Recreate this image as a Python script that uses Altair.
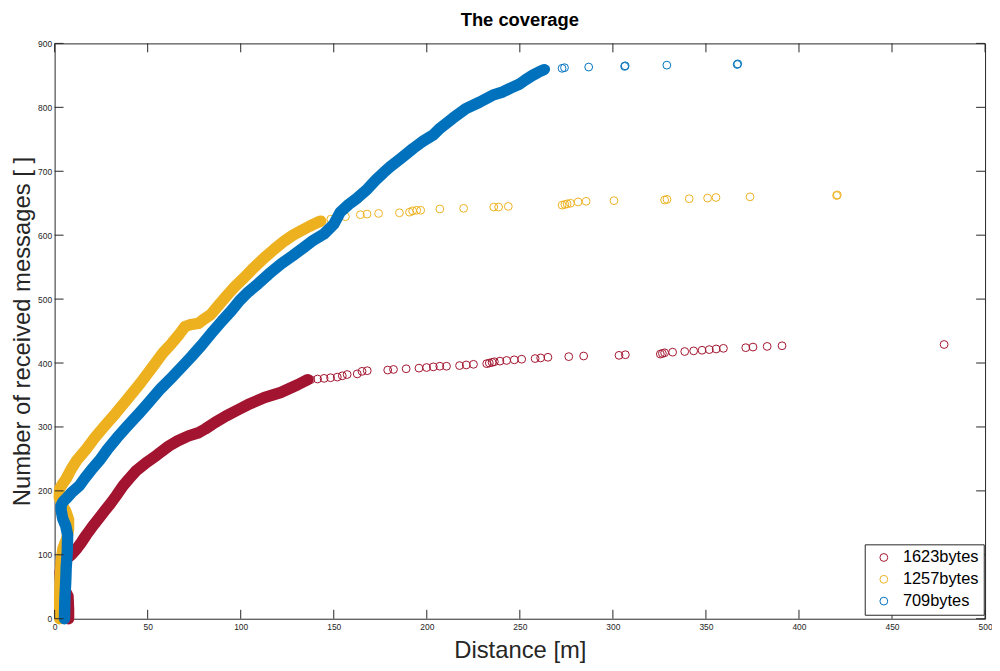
import altair as alt
import pandas as pd

SERIES = ["1623bytes", "1257bytes", "709bytes"]
COLORS = ["#A2142F", "#EDB120", "#0072BD"]

X_TICKS = [0, 50, 100, 150, 200, 250, 300, 350, 400, 450, 500]
Y_TICKS = [0, 100, 200, 300, 400, 500, 600, 700, 800, 900]

# ---- 1623bytes (red) ----
red_dense_x = [7.5, 7.5, 7.2, 5.0, 3.2, 3.0, 3.5, 6.0, 9.0, 12.0, 14.5, 17.0, 20.0, 23.5, 26.7, 30.0, 33.0,
               36.8, 40.0, 44.0, 49.7, 55.0, 61.3, 66.0, 72.0, 77.3, 81.0, 86.2, 92.0, 98.6, 104.0, 112.8,
               121.5, 130.6, 136.0]
red_dense_y = [0, 15, 35, 48, 58, 72, 85, 93, 100, 110, 120, 131, 143, 156, 168, 180, 192, 208, 219, 232,
               245, 256, 270, 278, 286, 291, 297, 307, 317, 327, 335, 346, 354, 366, 374]
red_pts_x = [137.6, 141.3, 144.8, 148.3, 151.9, 154.6, 157.2, 162.6, 165.2, 168.0, 179.0, 182.1, 188.9,
             195.8, 199.9, 203.5, 207.0, 210.6, 217.6, 221.2, 225.1, 232.2, 233.6, 235.1, 236.3, 239.3,
             242.9, 247.0, 251.0, 258.2, 261.2, 265.1, 276.3, 284.3, 303.3, 306.7, 325.5, 326.6, 327.8,
             332.1, 338.6, 343.4, 347.9, 351.8, 355.5, 359.4, 371.4, 375.3, 382.9, 390.9, 478.0]
red_pts_y = [374, 375, 376, 377, 378, 380, 382, 383, 387, 388, 389, 390, 391, 392, 393, 394, 395, 395,
             396, 397, 398, 399, 400, 401, 402, 403, 404, 405, 406, 407, 408, 409, 410, 411, 412, 413,
             414, 415, 416, 417, 418, 419, 420, 421, 422, 423, 424, 425, 426, 427, 429]

# ---- 1257bytes (yellow) ----
yel_dense_x = [2.7, 2.7, 3.0, 3.5, 4.5, 6.5, 7.5, 7.5, 6.0, 4.0, 2.5, 2.7, 4.5, 6.2, 8.9, 12.0, 16.9,
               21.5, 26.7, 33.0, 39.0, 46.2, 54.2, 58.0, 63.0, 67.0, 70.0, 73.0, 77.3, 80.0, 84.0, 88.0,
               93.3, 97.0, 102.0, 107.0, 112.8, 118.0, 123.5, 128.0, 132.4, 137.0, 141.3, 143.0]
yel_dense_y = [0, 30, 60, 90, 110, 125, 140, 155, 168, 178, 190, 203, 212, 219, 234, 248, 265, 283, 301,
               322, 343, 369, 400, 415, 431, 445, 457, 460, 462, 468, 476, 490, 508, 520, 534, 549, 565,
               578, 591, 600, 607, 614, 620, 622]
yel_pts_x = [148.4, 151.9, 156.3, 164.3, 167.9, 174.1, 185.3, 190.7, 192.4, 194.6, 196.7, 207.0, 219.8,
             236.0, 238.6, 243.8, 272.7, 274.2, 275.4, 277.2, 281.3, 285.6, 300.6, 327.8, 329.1, 341.0,
             350.9, 355.4, 373.7, 420.2, 420.6]
yel_pts_y = [625, 627, 629, 632, 633, 634, 635, 636, 638, 639, 639, 641, 642, 644, 644, 645, 647, 648,
             649, 650, 652, 653, 654, 655, 656, 657, 658, 659, 660, 662, 663]

# ---- 709bytes (blue) ----
blu_dense_x = [5.3, 5.5, 6.0, 6.2, 6.8, 7.0, 6.0, 4.3, 3.5, 3.5, 4.5, 6.2, 9.0, 13.3, 16.0, 20.0, 24.5,
               28.4, 33.5, 39.0, 45.0, 51.0, 57.0, 63.5, 69.0, 73.5, 79.0, 84.4, 90.0, 95.0, 99.5, 104.0,
               109.3, 115.0, 121.7, 128.0, 134.0, 139.0, 144.8, 150.0, 153.5, 158.0, 162.6, 168.0, 172.5,
               176.8, 180.3, 186.0, 192.8, 198.0, 203.5, 207.0, 214.0, 221.0, 228.3, 235.4, 240.8, 245.0,
               249.6, 253.0, 256.8, 260.0, 263.0]
blu_dense_y = [0, 30, 60, 79, 105, 131, 145, 157, 170, 177, 183, 188, 197, 208, 219, 234, 249, 265, 283,
               301, 320, 340, 360, 379, 396, 410, 428, 447, 466, 482, 498, 511, 524, 539, 555, 568, 581,
               592, 602, 617, 636, 648, 658, 672, 686, 698, 707, 720, 736, 747, 757, 767, 783, 798, 808,
               819, 824, 830, 836, 843, 850, 855, 859]
blu_pts_x = [263.9, 272.7, 274.0, 287.0, 306.3, 306.6, 329.0, 366.8, 367.1]
blu_pts_y = [860, 861, 862, 863, 864, 865, 866, 867, 868]

W, H = 938, 580
TICK_LEN = 9
AXIS_COLOR = "#262626"
FONT = "Liberation Sans"
PT_SIZE = 62
BAND = 11.5

xscale = alt.Scale(domain=[0, 500], nice=False, zero=False)
yscale = alt.Scale(domain=[0, 900], nice=False, zero=False)
cscale = alt.Scale(domain=SERIES, range=COLORS)

x_axis = alt.Axis(values=X_TICKS, title="Distance [m]", labelFlush=False, labelPadding=4,
                  titlePadding=8, format="d")
y_axis = alt.Axis(values=Y_TICKS, title="Number of received messages [ ]", labelPadding=3,
                  titlePadding=3, format="d")

legend = alt.Legend(title=None, orient="none", legendX=816.7, legendY=505, symbolType="circle",
                    symbolSize=PT_SIZE, symbolStrokeWidth=1, labelFontSize=16.5, labelFont=FONT,
                    labelColor="black", strokeColor=AXIS_COLOR, fillColor="white", padding=5,
                    symbolOffset=6, labelOffset=11, rowPadding=5)


def dense_layer(xs, ys, color):
    df = pd.DataFrame({"x": xs, "y": ys})
    return alt.Chart(df).mark_line(color=color, strokeWidth=BAND, strokeCap="round",
                                   strokeJoin="round").encode(
        x=alt.X("x:Q", scale=xscale, axis=x_axis),
        y=alt.Y("y:Q", scale=yscale, axis=y_axis),
        order=alt.Order("y:Q"),
    )


def point_layer(xs, ys, name):
    df = pd.DataFrame({"x": xs, "y": ys, "series": [name] * len(xs)})
    return alt.Chart(df).mark_point(shape="circle", filled=False, size=PT_SIZE, strokeWidth=1,
                                    opacity=1).encode(
        x=alt.X("x:Q", scale=xscale, axis=x_axis),
        y=alt.Y("y:Q", scale=yscale, axis=y_axis),
        color=alt.Color("series:N", scale=cscale, legend=legend),
    )


xt = pd.DataFrame({"x": X_TICKS})
yt = pd.DataFrame({"y": Y_TICKS})
tick_style = dict(color=AXIS_COLOR, strokeWidth=1)
ticks_bottom = alt.Chart(xt).mark_rule(**tick_style).encode(
    x=alt.X("x:Q", scale=xscale, axis=x_axis), y=alt.value(H), y2=alt.value(H - TICK_LEN))
ticks_top = alt.Chart(xt).mark_rule(**tick_style).encode(
    x=alt.X("x:Q", scale=xscale, axis=x_axis), y=alt.value(0), y2=alt.value(TICK_LEN))
ticks_left = alt.Chart(yt).mark_rule(**tick_style).encode(
    y=alt.Y("y:Q", scale=yscale, axis=y_axis), x=alt.value(0), x2=alt.value(TICK_LEN))
ticks_right = alt.Chart(yt).mark_rule(**tick_style).encode(
    y=alt.Y("y:Q", scale=yscale, axis=y_axis), x=alt.value(W), x2=alt.value(W - TICK_LEN))

chart = alt.layer(
    dense_layer(red_dense_x, red_dense_y, COLORS[0]),
    point_layer(red_pts_x, red_pts_y, SERIES[0]),
    dense_layer(yel_dense_x, yel_dense_y, COLORS[1]),
    point_layer(yel_pts_x, yel_pts_y, SERIES[1]),
    dense_layer(blu_dense_x, blu_dense_y, COLORS[2]),
    point_layer(blu_pts_x, blu_pts_y, SERIES[2]),
    ticks_bottom, ticks_top, ticks_left, ticks_right,
).properties(
    width=W, height=H,
    background="white",
    title=alt.Title("The coverage", font=FONT, fontSize=18.5, fontWeight="bold", color="black",
                    offset=10, anchor="middle"),
    padding={"left": 47, "top": 33, "right": 7, "bottom": 50},
    autosize=alt.AutoSizeParams(type="none"),
).configure_view(
    stroke=AXIS_COLOR, strokeWidth=1
).configure_axis(
    grid=False, ticks=False, tickSize=0, domain=False,
    labelFont=FONT, labelFontSize=8.5, labelColor=AXIS_COLOR,
    titleFont=FONT, titleFontSize=24, titleFontWeight="normal", titleColor=AXIS_COLOR,
)

chart.save("out.html", embed_options={"renderer": "svg", "actions": False})
